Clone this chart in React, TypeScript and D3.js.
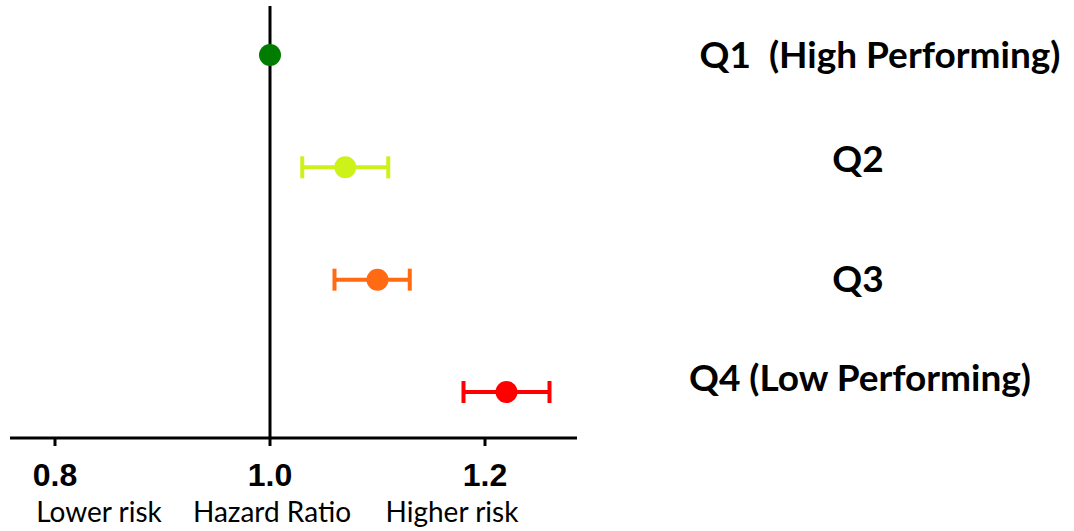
import React from 'react';
import { scaleLinear, scalePoint } from 'd3';

// quartile labels and hazard ratios (estimate, lower CI, upper CI)
const groups = ['Q1  (High Performing)', 'Q2', 'Q3', 'Q4 (Low Performing)'];
const hr = [1.0, 1.07, 1.1, 1.22];
const ciLow = [1.0, 1.03, 1.06, 1.18];
const ciHigh = [1.0, 1.11, 1.13, 1.26];
const colors = ['#007d00', '#cdf219', '#ff6a13', '#ff0000'];
const ticks = [0.8, 1.0, 1.2];
const bottomLabels = ['Lower risk', 'Hazard Ratio', 'Higher risk'];

const W = 1074;
const H = 531;

export default function App() {
	const x = scaleLinear().domain([0.8, 1.2]).range([55, 485]);
	const y = scalePoint().domain(groups).range([55, 392]);
	const axisY = 438;
	const labelFont = 'Lato, "Open Sans", sans-serif';

	// text placement for the right hand labels
	const labelX = [880, 858, 858, 860];
	const labelY = [68, 172, 292, 391];
	const bottomX = [99, 272, 452];

	return (
		<svg width={W} height={H} style={{ position: 'absolute', left: 0, top: 0, background: '#fff' }}>
			{/* reference line at HR = 1 */}
			<line x1={x(1)} x2={x(1)} y1={6} y2={axisY} stroke="#000" strokeWidth={3} />

			{/* x axis */}
			<line x1={10} x2={577} y1={axisY} y2={axisY} stroke="#000" strokeWidth={3} />
			{ticks.map((t) => (
				<g key={t}>
					<line x1={x(t)} x2={x(t)} y1={axisY} y2={axisY + 8} stroke="#000" strokeWidth={3} />
					<text
						x={x(t)}
						y={486}
						textAnchor="middle"
						style={{ fontFamily: '"Liberation Sans", Arial, sans-serif', fontWeight: 700, fontSize: '32px' }}>
						{t.toFixed(1)}
					</text>
				</g>
			))}
			{bottomLabels.map((l, i) => (
				<text
					key={l}
					x={bottomX[i]}
					y={522}
					textAnchor="middle"
					style={{ fontFamily: labelFont, fontSize: '28px' }}>
					{l}
				</text>
			))}

			{/* points + CIs */}
			{groups.map((g, i) => {
				const cy = y(g) as number;
				const hasCi = ciHigh[i] > ciLow[i];
				return (
					<g key={g}>
						{hasCi && (
							<g stroke={colors[i]} strokeWidth={4}>
								<line x1={x(ciLow[i])} x2={x(ciHigh[i])} y1={cy} y2={cy} />
								<line x1={x(ciLow[i])} x2={x(ciLow[i])} y1={cy - 11} y2={cy + 11} />
								<line x1={x(ciHigh[i])} x2={x(ciHigh[i])} y1={cy - 11} y2={cy + 11} />
							</g>
						)}
						<circle cx={x(hr[i])} cy={cy} r={11} fill={colors[i]} />
						<text
							x={labelX[i]}
							y={labelY[i]}
							textAnchor="middle"
							style={{ fontFamily: labelFont, fontWeight: 700, fontSize: '37px', whiteSpace: 'pre' }}>
							{g}
						</text>
					</g>
				);
			})}
		</svg>
	);
}
